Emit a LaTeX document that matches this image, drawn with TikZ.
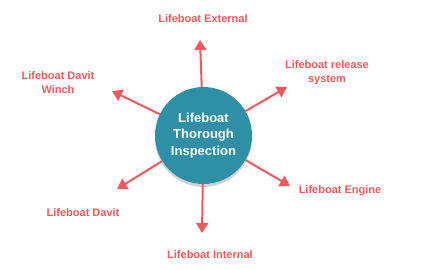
\documentclass[tikz,border=0pt]{standalone}
\usepackage{fontspec}
\setmainfont{Liberation Sans}
\usetikzlibrary{arrows.meta,shadows}

\definecolor{teal}{HTML}{2F8FA7}
\definecolor{salmon}{HTML}{F05A5C}

\tikzset{
  hub/.style={circle, fill=teal, minimum size=97pt, inner sep=0pt, text=white,
    align=center, font=\bfseries\fontsize{13}{16.5}\selectfont,
    drop shadow={shadow xshift=0pt, shadow yshift=-3pt, opacity=0.35}},
  lbl/.style={text=salmon, align=center, font=\bfseries\fontsize{11}{14}\selectfont},
  arr/.style={draw=salmon, line width=2pt, -{Triangle[length=10pt,width=12pt]}}
}

\begin{document}
\begin{tikzpicture}[x=1pt, y=-1pt]
  \useasboundingbox (0,0) rectangle (440,270);

  \node[hub] (insp) at (203.5,135.5) {Lifeboat\\Thorough\\Inspection};

  \node[lbl] (ext) at (203,19) {Lifeboat External};
  \node[lbl] (rel) at (327,73) {Lifeboat release\\system};
  \node[lbl] (eng) at (340,191) {Lifeboat Engine};
  \node[lbl] (int) at (210,255) {Lifeboat Internal};
  \node[lbl] (dav) at (83,213) {Lifeboat Davit};
  \node[lbl] (winch) at (58,83) {Lifeboat Davit\\Winch};

  \coordinate (ext-tip) at (200,40);
  \coordinate (rel-tip) at (287,87);
  \coordinate (eng-tip) at (290,186);
  \coordinate (int-tip) at (202,233);
  \coordinate (dav-tip) at (117,189);
  \coordinate (winch-tip) at (112,91);

  \foreach \t in {ext,rel,eng,int,dav,winch}
    \draw[arr] (insp) -- (\t-tip);
\end{tikzpicture}
\end{document}
